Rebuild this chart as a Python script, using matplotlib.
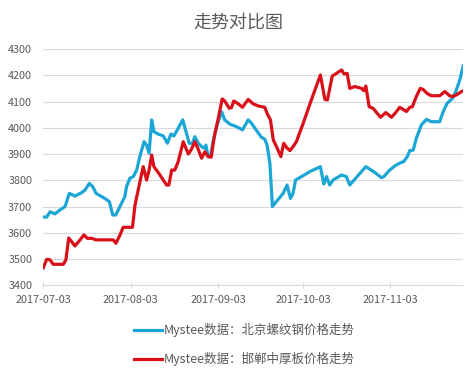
import matplotlib
matplotlib.use("Agg")
import matplotlib.pyplot as plt
import pandas as pd

plt.rcParams['font.family'] = ['Noto Sans CJK SC', 'DejaVu Sans']

start_date = "2017-07-03"
tick_labels = ["2017-07-03", "2017-08-03", "2017-09-03", "2017-10-03", "2017-11-03"]
y_ticks = [3400, 3500, 3600, 3700, 3800, 3900, 4000, 4100, 4200, 4300]

# day offsets from 2017-07-03 and prices
blue_days = [0.0, 1.2, 2.4, 4.1, 5.9, 7.7, 9.2, 11.2, 13.6, 14.8, 16.3, 17.5, 18.7, 20.7, 22.2, 23.4,
             24.6, 25.7, 27.7, 28.9, 29.5, 30.7, 31.9, 33.1, 34.2, 35.7, 36.6, 37.5, 38.4, 39.2, 40.7,
             42.5, 44.0, 45.2, 46.3, 47.8, 49.4, 50.4, 51.7, 52.9, 53.7, 54.9, 56.1, 57.1, 57.6, 58.4,
             59.3, 60.2, 61.4, 63.2, 64.3, 66.1, 68.5, 70.6, 72.6, 73.8, 75.6, 77.3, 78.5, 79.3, 80.3,
             81.2, 82.6, 85.0, 86.4, 87.6, 88.5, 89.4, 91.5, 94.5, 98.2, 99.4, 100.4, 101.5, 102.7,
             105.7, 107.4, 108.6, 110.4, 114.3, 117.5, 119.8, 120.7, 122.5, 124.6, 126.6, 127.7, 129.0,
             129.9, 131.1, 132.2, 134.0, 135.8, 137.5, 140.5, 141.7, 143.1, 145.0, 146.2, 147.6, 148.8]
blue_vals = [3660, 3660, 3680, 3672, 3687, 3700, 3750, 3740, 3753, 3763, 3788, 3776, 3750, 3738, 3728, 3719,
             3668, 3668, 3712, 3738, 3776, 3808, 3814, 3839, 3890, 3947, 3934, 3903, 4030, 3985, 3976,
             3969, 3941, 3976, 3969, 3998, 4030, 3992, 3941, 3941, 3966, 3941, 3928, 3922, 3934, 3890,
             3896, 3950, 4004, 4061, 4030, 4014, 4004, 3992, 4030, 4017, 3989, 3964, 3956, 3934, 3865,
             3700, 3719, 3750, 3782, 3731, 3750, 3801, 3814, 3833, 3852, 3786, 3814, 3782, 3801,
             3820, 3814, 3782, 3804, 3852, 3830, 3810, 3814, 3836, 3855, 3867, 3871, 3890,
             3913, 3915, 3960, 4011, 4032, 4023, 4023, 4061, 4093, 4112, 4138, 4182, 4235]

red_days = [0.0, 1.2, 2.4, 3.5, 7.1, 8.0, 9.0, 10.0, 11.2, 12.8, 14.4, 15.6, 17.1, 18.7, 24.8, 25.7,
            27.2, 28.3, 31.6, 32.5, 34.0, 35.4, 36.6, 37.5, 38.4, 39.2, 41.1, 42.5, 43.7, 44.5, 45.5,
            46.6, 47.8, 49.6, 51.4, 52.5, 53.7, 54.9, 56.1, 57.3, 58.4, 59.5, 60.6, 62.0, 63.4, 64.3,
            65.9, 66.7, 67.5, 69.1, 70.6, 72.6, 74.4, 76.2, 78.5, 79.3, 80.5, 81.5, 82.9, 84.2, 85.2,
            86.2, 87.4, 88.5, 89.7, 92.1, 95.0, 98.2, 99.8, 100.7, 102.4, 103.9, 105.7, 106.6, 107.7,
            108.6, 110.4, 112.8, 113.6, 114.3, 115.5, 116.9, 118.1, 119.5, 121.4, 123.4, 124.9, 126.3,
            128.7, 129.9, 130.8, 132.2, 133.6, 134.6, 136.0, 137.5, 140.5, 142.3, 144.0, 145.0, 146.4,
            148.2, 148.8]
red_vals = [3467, 3499, 3497, 3480, 3480, 3497, 3580, 3567, 3550, 3570, 3592, 3579, 3579, 3573, 3573, 3560,
            3592, 3621, 3621, 3706, 3782, 3852, 3801, 3839, 3896, 3852, 3824, 3801, 3782, 3782, 3839,
            3839, 3871, 3947, 3900, 3918, 3947, 3918, 3884, 3909, 3890, 3888, 3966, 4036, 4110, 4102,
            4074, 4077, 4102, 4091, 4078, 4108, 4091, 4083, 4078, 4055, 4030, 3954, 3922, 3890, 3941,
            3925, 3913, 3928, 3947, 4017, 4106, 4201, 4108, 4106, 4197, 4207, 4220, 4205, 4207,
            4150, 4157, 4150, 4141, 4159, 4080, 4074, 4058, 4040, 4058, 4040, 4058, 4078,
            4062, 4078, 4080, 4119, 4150, 4146, 4131, 4122, 4122, 4138, 4122, 4119, 4125,
            4138, 4140]

label_blue = "Mystee数据：北京螺纹钢价格走势"
label_red = "Mystee数据：邯郸中厚板价格走势"
title = "走势对比图"

base = pd.Timestamp(start_date)
bx = [base + pd.Timedelta(days=d) for d in blue_days]
rx = [base + pd.Timedelta(days=d) for d in red_days]

fig = plt.figure(figsize=(4.76, 3.69), dpi=100)
ax = fig.add_axes([0.091, 0.2268, 0.882, 0.6404])

ax.plot(bx, blue_vals, color="#1ba6d6", lw=2.3, label=label_blue)
ax.plot(rx, red_vals, color="#d9101a", lw=2.3, label=label_red)

ax.set_ylim(3400, 4300)
ax.set_yticks(y_ticks)
ax.set_xlim(base, base + pd.Timedelta(days=148.8))
ax.set_xticks([pd.Timestamp(t) for t in tick_labels])
ax.set_xticklabels(tick_labels)

ax.grid(axis='y', color="#d9d9d9", lw=0.8)
ax.set_axisbelow(True)
for s in ['top', 'right', 'left']:
    ax.spines[s].set_visible(False)
ax.spines['bottom'].set_color("#d9d9d9")
ax.spines['bottom'].set_linewidth(0.8)
ax.tick_params(axis='y', length=0, pad=8, labelsize=7.8, labelcolor="#595959")
ax.tick_params(axis='x', length=4, color="#d9d9d9", direction='inout', pad=5, labelsize=7.8,
               labelcolor="#595959")

fig.text(0.5, 0.94, title, ha='center', va='center', fontsize=13, color="#595959")

fig.legend(loc='upper center', bbox_to_anchor=(0.513, 0.155), frameon=False, ncol=1,
           fontsize=9, handlelength=2.3, labelspacing=1.2, handletextpad=0.1,
           labelcolor="#595959")

fig.savefig("out.png", dpi=100)
